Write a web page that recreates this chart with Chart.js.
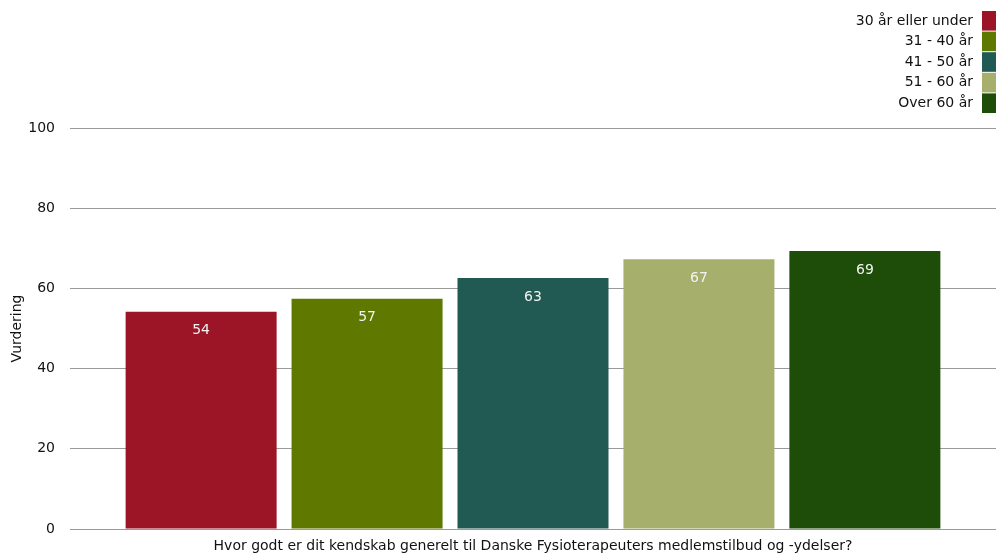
<!DOCTYPE html>
<html>
<head>
<meta charset="utf-8">
<script src="https://cdn.jsdelivr.net/npm/chart.js@4/dist/chart.umd.min.js"></script>
<style>
  html, body { margin: 0; padding: 0; background: #fff; }
  #wrap { width: 996px; height: 553px; position: relative; }
</style>
</head>
<body>
<div id="wrap"><canvas id="myChart"></canvas></div>
<script>
var categories = ["Hvor godt er dit kendskab generelt til Danske Fysioterapeuters medlemstilbud og -ydelser?"];
var groups = ["30 år eller under", "31 - 40 år", "41 - 50 år", "51 - 60 år", "Over 60 år"];
var scores = [54.2, 57.4, 62.6, 67.3, 69.3];
var colors = ["#9b1527", "#5f7800", "#215a52", "#a6b06c", "#1e4d09"];
var yTicks = [0, 20, 40, 60, 80, 100];

var FONT = "'DejaVu Sans', sans-serif";

var datasets = groups.map(function (g, i) {
    return {
        label: g,
        data: [scores[i]],
        backgroundColor: colors[i],
        categoryPercentage: 0.896,
        barPercentage: 0.91
    };
});

// labels inside the top of each bar
var valueLabels = {
    id: 'valueLabels',
    afterDatasetsDraw: function (chart) {
        var ctx = chart.ctx;
        ctx.save();
        ctx.font = "14px " + FONT;
        ctx.fillStyle = "#f2f2f2";
        ctx.textAlign = "center";
        ctx.textBaseline = "middle";
        chart.data.datasets.forEach(function (ds, i) {
            chart.getDatasetMeta(i).data.forEach(function (bar, j) {
                ctx.fillText(Math.round(ds.data[j]), bar.x, bar.y + 19);
            });
        });
        ctx.restore();
    }
};

// legend: text on the left, colour box on the right, one item per line
var sideLegend = {
    id: 'sideLegend',
    afterDraw: function (chart) {
        var ctx = chart.ctx;
        var right = chart.width;
        ctx.save();
        ctx.font = "14px " + FONT;
        ctx.textAlign = "right";
        ctx.textBaseline = "middle";
        chart.data.datasets.forEach(function (ds, i) {
            var top = 11 + i * 20.6;
            ctx.fillStyle = ds.backgroundColor;
            ctx.fillRect(right - 14, top, 14, 19.6);
            ctx.fillStyle = "#111";
            ctx.fillText(ds.label, right - 23, top + 10);
        });
        ctx.restore();
    }
};

var ctx = document.getElementById("myChart");
var myChart = new Chart(ctx, {
    type: 'bar',
    data: {
        labels: categories,
        datasets: datasets
    },
    plugins: [valueLabels, sideLegend],
    options: {
        responsive: true,
        maintainAspectRatio: false,
        animation: false,
        layout: { padding: { top: 128, right: 0, left: 0, bottom: 0 } },
        plugins: {
            legend: { display: false },
            tooltip: { enabled: false }
        },
        scales: {
            x: {
                grid: { display: false },
                border: { display: false },
                ticks: { color: "#111", font: { family: FONT, size: 14 }, padding: 1 },
                afterFit: function (scale) { scale.height = 24; }
            },
            y: {
                min: 0,
                max: 100,
                afterBuildTicks: function (axis) {
                    axis.ticks = yTicks.map(function (v) { return { value: v }; });
                },
                afterFit: function (scale) { scale.width = 70; },
                grid: { color: "#9a9a9a", drawTicks: false },
                border: { display: false },
                ticks: { color: "#111", font: { family: FONT, size: 14 }, padding: 15 },
                title: {
                    display: true,
                    text: "Vurdering",
                    color: "#111",
                    font: { family: FONT, size: 14 },
                    padding: { top: 9, bottom: 3 }
                }
            }
        }
    }
});
</script>
</body>
</html>
